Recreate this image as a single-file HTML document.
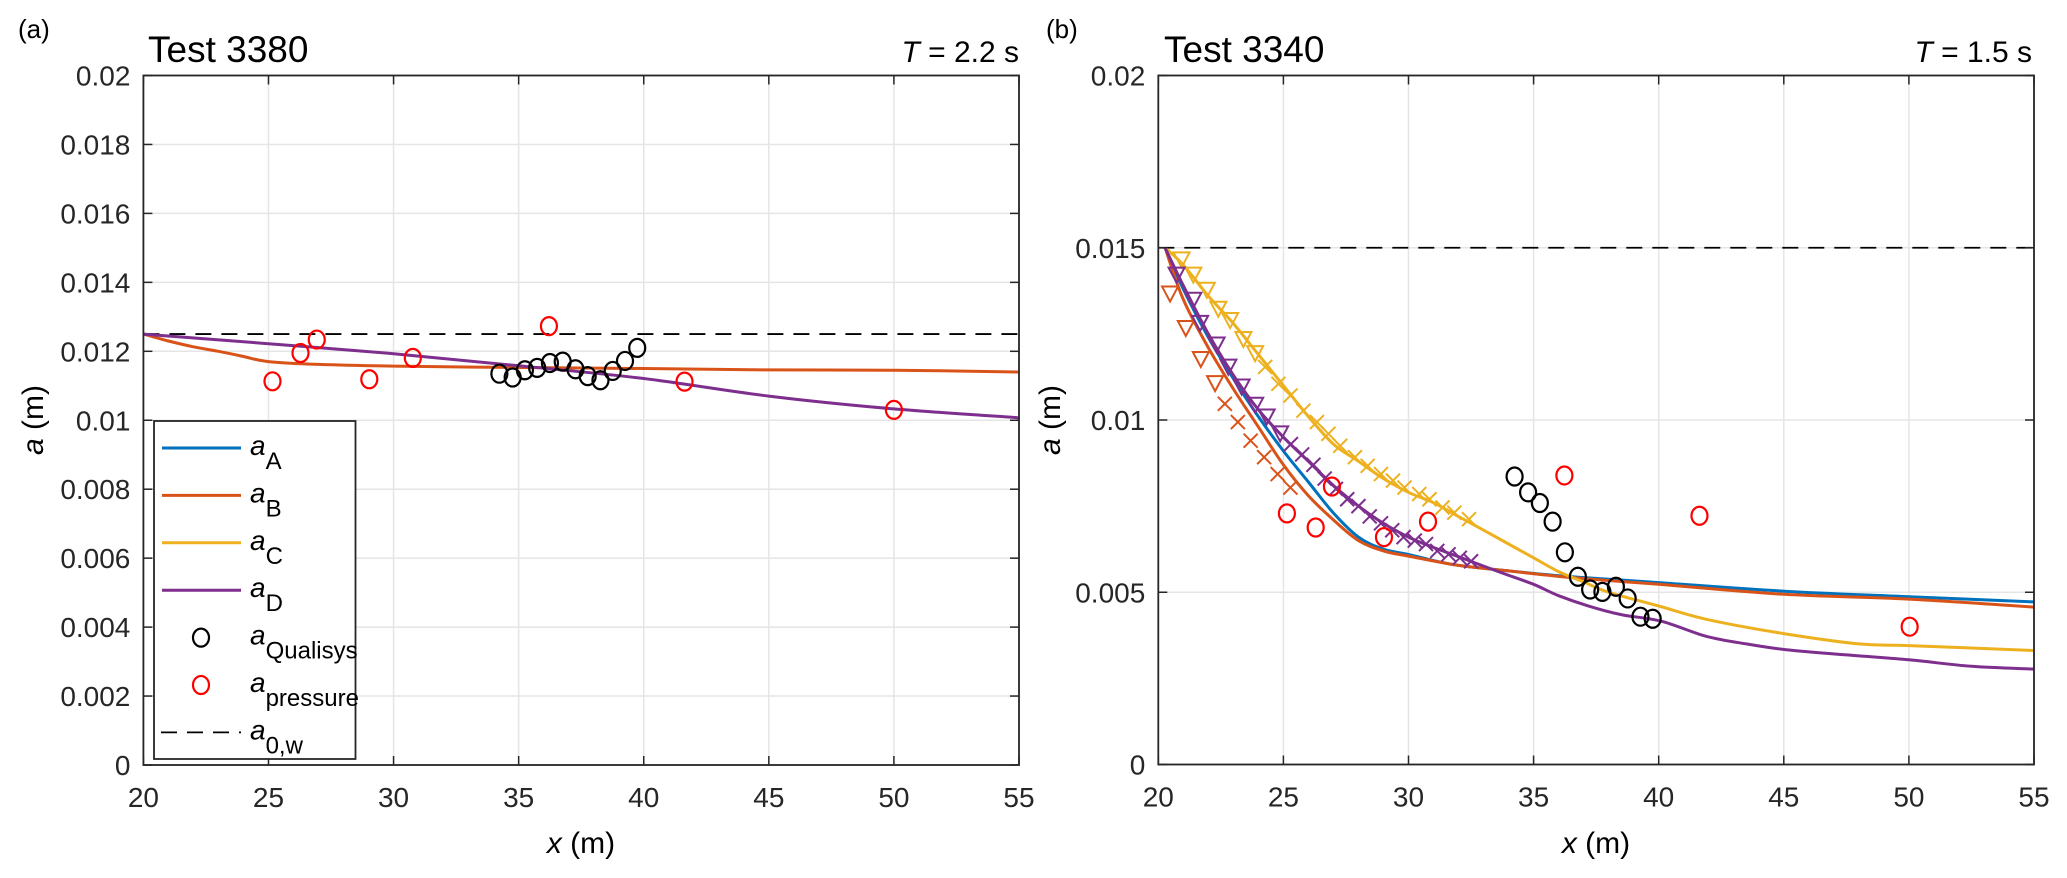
<!DOCTYPE html>
<html><head><meta charset="utf-8">
<style>
html,body{margin:0;padding:0;background:#fff;}
svg{display:block;font-family:"Liberation Sans",Arial,sans-serif;}
</style></head>
<body>
<svg id="fig" width="2067" height="878" viewBox="0 0 2067 878" xmlns="http://www.w3.org/2000/svg">
  <g id="pa"></g>
  <g id="pb"></g>
</svg>
<script>
// ---------- data ----------
const xTicks = [20,25,30,35,40,45,50,55];
const yTicksA = [0,0.002,0.004,0.006,0.008,0.01,0.012,0.014,0.016,0.018,0.02];
const yTickLabelsA = ["0","0.002","0.004","0.006","0.008","0.01","0.012","0.014","0.016","0.018","0.02"];
const yTicksB = [0,0.005,0.01,0.015,0.02];
const yTickLabelsB = ["0","0.005","0.01","0.015","0.02"];

// panel a
const a0wA = 0.0125;
const aBxA = [20,21,22,23,24,25,27,30,35,40,45,50,55];
const aByA = [0.0125,0.0123,0.01213,0.0120,0.01185,0.0117,0.01162,0.01157,0.01153,0.0115,0.01146,0.01145,0.0114];
const aDxA = [20,25,30,35,40,45,50,55];
const aDyA = [0.0125,0.01222,0.01193,0.01158,0.01121,0.0107,0.01033,0.01007];
const presXA = [25.16,26.28,26.93,29.03,30.77,36.21,41.63,50.0];
const presYA = [0.01113,0.01195,0.01234,0.01119,0.01181,0.01273,0.01112,0.0103];
const qualXA = [34.23,34.76,35.25,35.74,36.25,36.76,37.27,37.76,38.27,38.76,39.25,39.74];
const qualYA = [0.01135,0.01124,0.01145,0.01152,0.01166,0.0117,0.01148,0.01128,0.01116,0.01143,0.01172,0.0121];

// panel b
const a0wB = 0.015;
const aAxB = [20.27,21,22,23,24,25,26,27,28,29,30,31,32,34,36,38,40,45,50,55];
const aAyB = [0.015,0.0138,0.0124,0.0112,0.0101,0.0091,0.0082,0.0073,0.0066,0.00625,0.0061,0.00592,0.00578,0.00562,0.00548,0.00538,0.00528,0.00503,0.00487,0.00472];
const aBxB = [20.27,21,22,23,24,25,26,27,28,29,30,32,34,36,38,40,45,50,55];
const aByB = [0.015,0.0135,0.0121,0.0109,0.0098,0.0087,0.0078,0.0071,0.0065,0.0062,0.00605,0.00578,0.00562,0.00546,0.00534,0.00523,0.00494,0.0048,0.00457];
const aCxB = [20.27,21,22,23,24,25,26,27,28,29,30,31,32,33,34,35,36,37,38,40,42,45,48,50,55];
const aCyB = [0.015,0.0145,0.0136,0.0128,0.0119,0.0110,0.0101,0.0093,0.0088,0.0083,0.0079,0.0076,0.0072,0.0068,0.0064,0.0060,0.0056,0.0053,0.0050,0.0046,0.0042,0.0038,0.0035,0.00345,0.00331];
const aDxB = [20.27,21,22,23,24,25,26,27,28,29,30,31,32.3,33.7,35,36,37.2,38.5,40.1,41.9,43.5,45.1,47.5,50,52.5,55];
const aDyB = [0.015,0.0139,0.0125,0.0113,0.0103,0.0095,0.0088,0.0081,0.0075,0.0070,0.0066,0.0063,0.00595,0.00557,0.00523,0.0049,0.0046,0.00435,0.00416,0.00372,0.0035,0.00333,0.00318,0.00304,0.00285,0.00277];
const triBx = [20.47,21.1,21.7,22.27];
const triBy = [0.0137,0.0127,0.0118,0.0111];
const crsBx = [22.66,23.18,23.69,24.23,24.77,25.28];
const crsBy = [0.01047,0.00994,0.0094,0.00892,0.00843,0.00804];
const triCx = [20.93,21.4,21.94,22.4,22.87,23.4,23.87];
const triCy = [0.01469,0.01425,0.01381,0.01326,0.01293,0.01238,0.01197];
const crsCx = [24.27,24.8,25.28,25.8,26.34,26.8,27.27,27.86,28.37,28.9,29.38,29.84,30.43,30.84,31.36,31.83,32.42];
const crsCy = [0.01154,0.01105,0.01071,0.01027,0.00994,0.0096,0.00925,0.00892,0.00867,0.00843,0.00824,0.00804,0.00785,0.0077,0.00746,0.00731,0.00712];
const triDx = [20.73,21.4,21.67,22.33,22.8,23.33,23.87,24.33,24.87];
const triDy = [0.01425,0.01352,0.01285,0.01222,0.01158,0.011,0.01047,0.01013,0.00964];
const crsDx = [25.3,25.75,26.2,26.65,27.1,27.55,28.0,28.45,28.9,29.35,29.8,30.25,30.7,31.15,31.6,32.05,32.5];
const crsDy = [0.0093,0.0090,0.0087,0.0083,0.0080,0.0077,0.0075,0.0072,0.0070,0.0068,0.0066,0.0065,0.0064,0.0062,0.0061,0.0060,0.0059];
const presXB = [25.14,26.29,26.94,29.02,30.78,36.23,41.63,50.03];
const presYB = [0.00729,0.00688,0.00807,0.0066,0.00705,0.00839,0.00722,0.004];
const qualXB = [34.24,34.78,35.25,35.76,36.25,36.77,37.26,37.75,38.29,38.76,39.27,39.76];
const qualYB = [0.00836,0.0079,0.00759,0.00705,0.00616,0.00545,0.00508,0.00501,0.00516,0.00482,0.00429,0.00423];

// ---------- drawing ----------
const NS = "http://www.w3.org/2000/svg";
const C = {A:"#0072BD",B:"#D95319",C:"#EDB120",D:"#7E2F8E"};
function mk(parent, tag, attrs){
  const e = document.createElementNS(NS, tag);
  for (const k in attrs) e.setAttribute(k, attrs[k]);
  parent.appendChild(e);
  return e;
}
function makeAxes(g, L, R, T, B, yMax){
  const sx = x => L + (x-20)/(55-20)*(R-L);
  const sy = y => B - y/yMax*(B-T);
  return {sx, sy, L, R, T, B};
}
function drawFrame(g, ax, yTicks){
  const {sx, sy, L, R, T, B} = ax;
  mk(g,"rect",{x:L,y:T,width:R-L,height:B-T,fill:"#fff"});
  const grid = mk(g,"g",{stroke:"#e5e5e5","stroke-width":1.5});
  
  
  xTicks.forEach(t=>{ const x=sx(t); mk(grid,"line",{x1:x,x2:x,y1:T,y2:B}); });
  yTicks.forEach(t=>{ const y=sy(t); mk(grid,"line",{x1:L,x2:R,y1:y,y2:y}); });
}
function drawAxesBox(g, ax, yTicks, yLabels){
  const {sx, sy, L, R, T, B} = ax;
  const tk = mk(g,"g",{stroke:"#262626","stroke-width":1.5,fill:"none"});
  
  
  xTicks.forEach(t=>{ const x=sx(t);
    mk(tk,"line",{x1:x,x2:x,y1:B,y2:B-9}); mk(tk,"line",{x1:x,x2:x,y1:T,y2:T+9}); });
  yTicks.forEach(t=>{ const y=sy(t);
    mk(tk,"line",{x1:L,x2:L+9,y1:y,y2:y}); mk(tk,"line",{x1:R,x2:R-9,y1:y,y2:y}); });
  const box = mk(g,"rect",{x:L,y:T,width:R-L,height:B-T,fill:"none",stroke:"#262626","stroke-width":1.8});
  
  
  const xl = mk(g,"g",{fill:"#262626","font-size":28,"text-anchor":"middle"});
  
  
  xTicks.forEach(t=>{ const e=mk(xl,"text",{x:sx(t),y:B+42}); e.textContent=String(t); });
  const yl = mk(g,"g",{fill:"#262626","font-size":28,"text-anchor":"end"});
  
  
  yTicks.forEach((t,i)=>{ const e=mk(yl,"text",{x:L-13,y:sy(t)+10}); e.textContent=yLabels[i]; });
}
function smoothPath(pts){
  let d = "M"+pts[0][0].toFixed(1)+","+pts[0][1].toFixed(1);
  for (let i=0;i<pts.length-1;i++){
    const p0=pts[Math.max(0,i-1)], p1=pts[i], p2=pts[i+1], p3=pts[Math.min(pts.length-1,i+2)];
    const c1x=p1[0]+(p2[0]-p0[0])/6, c1y=p1[1]+(p2[1]-p0[1])/6;
    const c2x=p2[0]-(p3[0]-p1[0])/6, c2y=p2[1]-(p3[1]-p1[1])/6;
    d += `C${c1x.toFixed(1)},${c1y.toFixed(1)} ${c2x.toFixed(1)},${c2y.toFixed(1)} ${p2[0].toFixed(1)},${p2[1].toFixed(1)}`;
  }
  return d;
}
function line(g, ax, xs, ys, color, name){
  const pts = xs.map((x,i)=>[ax.sx(x), ax.sy(ys[i])]);
  const p = mk(g,"path",{d:smoothPath(pts),fill:"none",stroke:color,"stroke-width":3,"stroke-linejoin":"round"});
  
  
  return p;
}
function circles(g, ax, xs, ys, color, name){
  const gg = mk(g,"g",{fill:"none",stroke:color,"stroke-width":2.2});
  
  
  xs.forEach((x,i)=>{ mk(gg,"ellipse",{cx:ax.sx(x),cy:ax.sy(ys[i]),rx:8,ry:9}); });
}
function tris(g, ax, xs, ys, color, name){
  const gg = mk(g,"g",{fill:"none",stroke:color,"stroke-width":2});
  
  
  xs.forEach((x,i)=>{ const cx=ax.sx(x), cy=ax.sy(ys[i]);
    mk(gg,"path",{d:`M${cx-8},${cy-6}L${cx+8},${cy-6}L${cx},${cy+9}Z`}); });
}
function crosses(g, ax, xs, ys, color, name){
  const gg = mk(g,"g",{fill:"none",stroke:color,"stroke-width":2});
  
  
  xs.forEach((x,i)=>{ const cx=ax.sx(x), cy=ax.sy(ys[i]);
    mk(gg,"path",{d:`M${cx-7},${cy-7}L${cx+7},${cy+7}M${cx-7},${cy+7}L${cx+7},${cy-7}`}); });
}
function text(g, x, y, size, html, name, anchor){
  const t = mk(g,"text",{x:x,y:y,"font-size":size,fill:"#000","text-anchor":anchor||"start"});
  t.innerHTML = html;
  
  
  return t;
}

// ---- Panel A ----
const ga = document.getElementById("pa");
const axA = makeAxes(ga, 143.4, 1019, 75.5, 765, 0.02);
drawFrame(ga, axA, yTicksA);
const dashA = mk(ga,"line",{x1:axA.sx(20),x2:axA.R,y1:axA.sy(a0wA),y2:axA.sy(a0wA),stroke:"#000","stroke-width":1.8,"stroke-dasharray":"16,10"});


line(ga, axA, aBxA, aByA, C.B, "aB-line");
line(ga, axA, aDxA, aDyA, C.D, "aD-line");
circles(ga, axA, presXA, presYA, "#ff0000", "a-pressure-points");
circles(ga, axA, qualXA, qualYA, "#000", "a-qualisys-points");
drawAxesBox(ga, axA, yTicksA, yTickLabelsA);
// legend
const lg = mk(ga,"g",{});


mk(lg,"rect",{x:154,y:421,width:201.5,height:338,fill:"#fff",stroke:"#262626","stroke-width":1.8});
const legItems = [
  {t:"line",c:C.A,s:"A",n:"legend-entry-aA"},
  {t:"line",c:C.B,s:"B",n:"legend-entry-aB"},
  {t:"line",c:C.C,s:"C",n:"legend-entry-aC"},
  {t:"line",c:C.D,s:"D",n:"legend-entry-aD"},
  {t:"circ",c:"#000",s:"Qualisys",n:"legend-entry-qualisys"},
  {t:"circ",c:"#ff0000",s:"pressure",n:"legend-entry-pressure"},
  {t:"dash",c:"#000",s:"0,w",n:"legend-entry-a0w"}
];
legItems.forEach((it,i)=>{
  const y = 448 + i*47.4;
  const gi = mk(lg,"g",{});
  
  
  if (it.t==="line") mk(gi,"line",{x1:162,x2:241,y1:y,y2:y,stroke:it.c,"stroke-width":3});
  else if (it.t==="circ") mk(gi,"ellipse",{cx:201,cy:y,rx:8,ry:9,fill:"none",stroke:it.c,"stroke-width":2.2});
  else mk(gi,"line",{x1:161,x2:241,y1:y,y2:y,stroke:it.c,"stroke-width":1.8,"stroke-dasharray":"16,10"});
  const t = mk(gi,"text",{x:250,y:y+7,"font-size":28,fill:"#000"});
  t.innerHTML = `<tspan font-style="italic">a</tspan><tspan dy="14" font-size="24">${it.s}</tspan>`;
});
text(ga, 18, 38, 26, "(a)", "panel-a-label");
text(ga, 148, 62, 37, "Test 3380", "panel-a-title");
text(ga, 1019, 62, 30, '<tspan font-style="italic">T</tspan> = 2.2 s', "panel-a-period", "end");
text(ga, 581, 853, 30, '<tspan font-style="italic">x</tspan> (m)', "x-axis-title-a", "middle");
const ylA = text(ga, 0, 0, 30, '<tspan font-style="italic">a</tspan> (m)', "y-axis-title-a", "middle");
ylA.setAttribute("transform","translate(43,420) rotate(-90)");

// ---- Panel B ----
const gb = document.getElementById("pb");
const axB = makeAxes(gb, 1158.3, 2034, 75.5, 764.5, 0.02);
drawFrame(gb, axB, yTicksB);
const dashB = mk(gb,"line",{x1:axB.sx(20),x2:axB.R,y1:axB.sy(a0wB),y2:axB.sy(a0wB),stroke:"#000","stroke-width":1.8,"stroke-dasharray":"16,10"});


line(gb, axB, aAxB, aAyB, C.A, "aA-line-b");
line(gb, axB, aBxB, aByB, C.B, "aB-line-b");
line(gb, axB, aCxB, aCyB, C.C, "aC-line-b");
line(gb, axB, aDxB, aDyB, C.D, "aD-line-b");
tris(gb, axB, triBx, triBy, C.B, "aB-triangles");
crosses(gb, axB, crsBx, crsBy, C.B, "aB-crosses");
tris(gb, axB, triCx, triCy, C.C, "aC-triangles");
crosses(gb, axB, crsCx, crsCy, C.C, "aC-crosses");
tris(gb, axB, triDx, triDy, C.D, "aD-triangles");
crosses(gb, axB, crsDx, crsDy, C.D, "aD-crosses");
circles(gb, axB, presXB, presYB, "#ff0000", "b-pressure-points");
circles(gb, axB, qualXB, qualYB, "#000", "b-qualisys-points");
drawAxesBox(gb, axB, yTicksB, yTickLabelsB);
text(gb, 1046, 38, 26, "(b)", "panel-b-label");
text(gb, 1164, 62, 37, "Test 3340", "panel-b-title");
text(gb, 2032, 62, 30, '<tspan font-style="italic">T</tspan> = 1.5 s', "panel-b-period", "end");
text(gb, 1596, 853, 30, '<tspan font-style="italic">x</tspan> (m)', "x-axis-title-b", "middle");
const ylB = text(gb, 0, 0, 30, '<tspan font-style="italic">a</tspan> (m)', "y-axis-title-b", "middle");
ylB.setAttribute("transform","translate(1060,420) rotate(-90)");
</script>
</body></html>
